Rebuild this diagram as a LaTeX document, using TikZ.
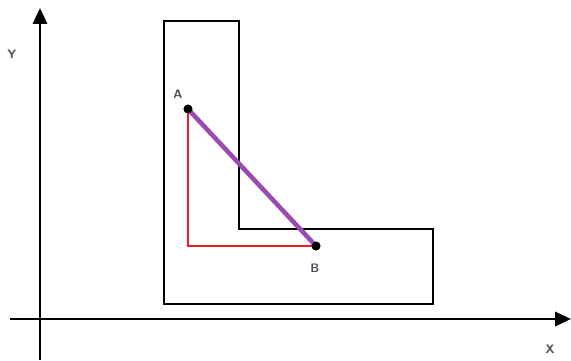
\documentclass[tikz,border=0pt]{standalone}
\usepackage{tikz}
\usetikzlibrary{arrows.meta}
\definecolor{lshapepurple}{HTML}{9B4BAF}
\definecolor{lshapered}{HTML}{EE1C24}
\definecolor{lshapegray}{HTML}{4A4F57}
\tikzset{
  ls/axis/.style={-{Triangle[length=9pt,width=8pt]}, black, line width=1.6pt},
  ls/edge/.style={black, line width=1.4pt},
  ls/label/.style={font=\sffamily\scriptsize\bfseries, text=lshapegray, inner sep=1pt},
  ls/dot/.style={circle, fill=black, inner sep=0pt, minimum size=5pt}
}

\begin{document}
\begin{tikzpicture}[x=0.02cm, y=-0.02cm]
  \useasboundingbox (0,0) rectangle (571,360);

  % --- Ejes ---
  \coordinate (xstart) at (10,319);
  \coordinate (xend) at (571,319);
  \coordinate (ystart) at (40,360);
  \coordinate (yend) at (40,8);
  \draw[ls/axis] (xstart) -- (xend);
  \draw[ls/axis] (ystart) -- (yend);
  \node[ls/label] (xlab) at (550,349) {X};
  \node[ls/label] (ylab) at (12,54) {Y};

  % --- Perfil en L ---
  \draw[ls/edge] (164,21) -- (239,21) -- (239,229) -- (433,229)
    -- (433,304) -- (164,304) -- cycle;

  % --- Puntos A y B ---
  \node[ls/dot] (ptA) at (188,109) {};
  \node[ls/dot] (ptB) at (316,246) {};
  \coordinate (corner) at (188,246);
  \draw[lshapered, line width=1.3pt] (ptA.center) -- (corner) -- (ptB.center);
  \draw[lshapepurple, line width=2.6pt] (ptA.center) -- (ptB.center);
  \node[ls/dot] at (ptA) {};
  \node[ls/dot] at (ptB) {};
  \node[ls/label] (labA) at (178,94) {A};
  \node[ls/label] (labB) at (315,268) {B};
\end{tikzpicture}
\end{document}
